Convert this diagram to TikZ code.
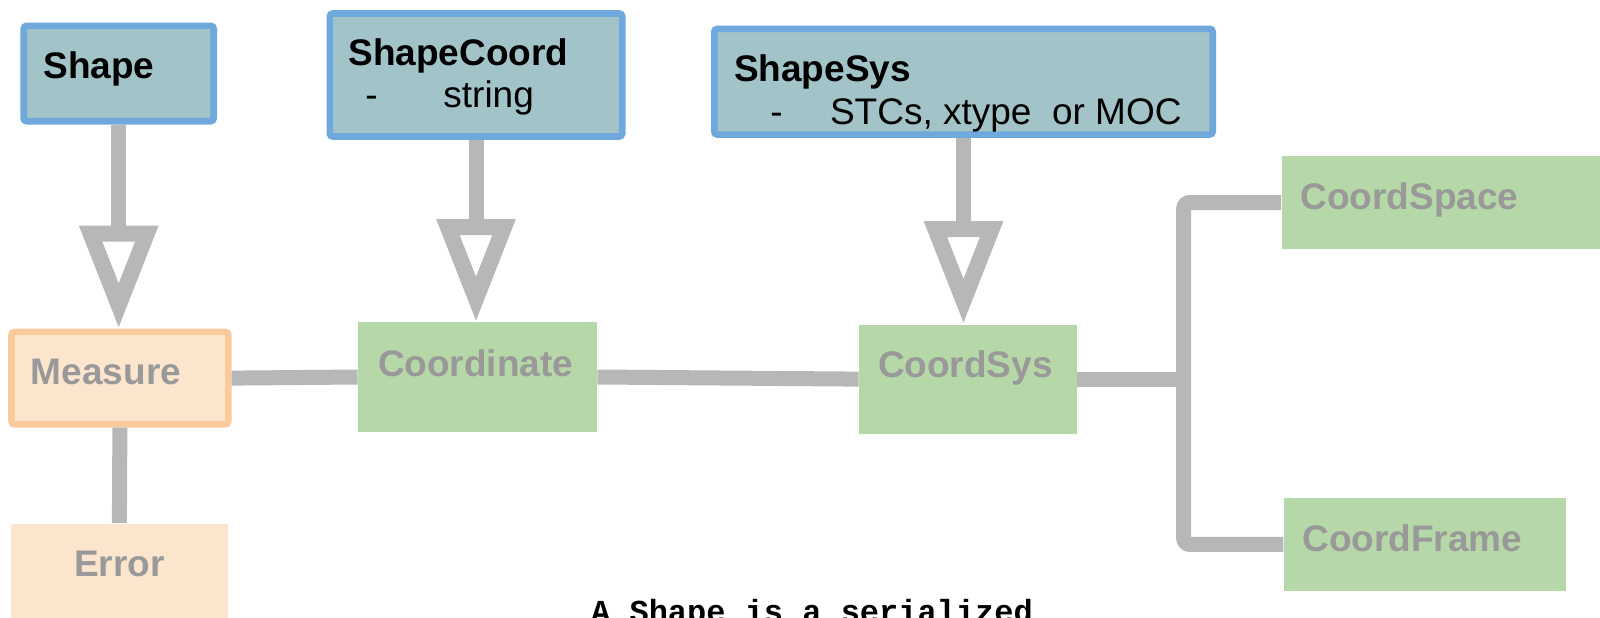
\documentclass[tikz,border=0pt]{standalone}
\usepackage{fontspec}
\setmainfont{Liberation Sans}
\newfontfamily\captionmono{Liberation Mono}
\usetikzlibrary{arrows.meta}

\definecolor{clsborder}{HTML}{6FA8DC}
\definecolor{clsfill}{HTML}{A2C4C9}
\definecolor{dtfill}{HTML}{B6D7A8}
\definecolor{msborder}{HTML}{F9CB9C}
\definecolor{msfill}{HTML}{FCE5CD}
\definecolor{lbl}{HTML}{999999}
\definecolor{link}{HTML}{B7B7B7}

\tikzset{
  clsbox/.style={draw=clsborder, fill=clsfill, line width=3.3pt, rounded corners=1.5pt, inner sep=0pt},
  dtbox/.style={fill=dtfill, draw=none, inner sep=0pt},
  msbox/.style={draw=msborder, fill=msfill, line width=3.3pt, rounded corners=1.5pt, inner sep=0pt},
  errbox/.style={fill=msfill, draw=none, inner sep=0pt},
  head/.style={anchor=base west, inner sep=0pt, font=\fontsize{18.5}{22}\selectfont\bfseries},
  sub/.style={anchor=base west, inner sep=0pt, font=\fontsize{18.5}{22}\selectfont},
  grey/.style={anchor=base west, inner sep=0pt, text=lbl, font=\fontsize{18.5}{22}\selectfont\bfseries},
  wire/.style={draw=link, line width=7.5pt},
  inherit/.style={draw=link, line width=7.5pt,
    -{Triangle[open, length=51.5pt, width=37.5pt, line width=8pt 0 1]}},
}

\begin{document}
\begin{tikzpicture}[x=0.5pt, y=-0.5pt]
\useasboundingbox (0,0) rectangle (1600,617);

% boxes
\node[clsbox, minimum width=95pt, minimum height=47.7pt]    (shape)      at (118.7,73.5) {};
\node[clsbox, minimum width=146.2pt, minimum height=61.5pt] (shapecoord) at (476,75) {};
\node[clsbox, minimum width=249.2pt, minimum height=52.9pt] (shapesys)   at (963.5,81.7) {};
\node[msbox, minimum width=108.4pt, minimum height=46.2pt]  (measure)    at (119.9,378.1) {};
\node[dtbox, minimum width=119.5pt, minimum height=54.6pt]  (coordinate) at (477.5,377) {};
\node[dtbox, minimum width=108.75pt, minimum height=54.6pt] (coordsys)   at (967.75,379.1) {};
\node[dtbox, minimum width=159.2pt, minimum height=46.5pt]  (coordspace) at (1440.8,202.5) {};
\node[dtbox, minimum width=141.15pt, minimum height=46.4pt] (coordframe) at (1424.85,544.4) {};
\node[errbox, minimum width=108.2pt, minimum height=58.25pt] (error)     at (119.4,581.75) {};

% labels
\node[head] (tshape) at (43,78.6) {Shape};
\node[head] (tshapecoord) at (348,65) {ShapeCoord};
\node[sub]  (dshapecoord) at (365,107) {-};
\node[sub]  (vshapecoord) at (443,107) {string};
\node[head] (tshapesys) at (733.7,81) {ShapeSys};
\node[sub]  (dshapesys) at (770,124) {-};
\node[sub]  (vshapesys) at (829.6,124) {STCs, xtype\ \ or MOC};
\node[grey] (tmeasure) at (30.6,384.7) {Measure};
\node[grey] (tcoordinate) at (377.6,376.5) {Coordinate};
\node[grey] (tcoordsys) at (877.6,377.6) {CoordSys};
\node[grey] (tcoordspace) at (1300,209) {CoordSpace};
\node[grey] (tcoordframe) at (1302,551) {CoordFrame};
\node[grey, anchor=base] (terror) at (119.4,576.5) {Error};
\node[anchor=base, inner sep=0pt, font=\captionmono\bfseries\fontsize{16}{19}\selectfont]
  (caption) at (812,622) {A Shape is a serialized};

% connectors
\coordinate (jn) at (1183.7,379.1);
\draw[inherit] (shape.south) -- (shape.south |- measure.north);
\draw[inherit] (shapecoord.south) -- (shapecoord.south |- coordinate.north);
\draw[inherit] (shapesys.south) -- (shapesys.south |- coordsys.north);
\draw[wire] (measure.east) -- (coordinate.west);
\draw[wire] (coordinate.east) -- (coordsys.west);
\draw[wire] (measure.south) -- (error.north);
\draw[wire] (coordsys.east) -- (jn);
\draw[wire, rounded corners=3pt] (coordspace.west) -| (jn) |- (coordframe.west);
\end{tikzpicture}
\end{document}
